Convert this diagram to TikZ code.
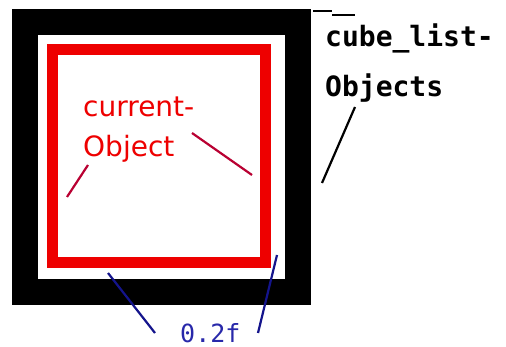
\documentclass[tikz,border=0pt]{standalone}
\usepackage{fontspec}
\setmainfont{DejaVu Sans}
\newfontfamily\monofont{DejaVu Sans Mono}
\definecolor{frameblack}{RGB}{0,0,0}
\definecolor{objred}{RGB}{238,0,0}
\definecolor{leadred}{RGB}{185,0,50}
\definecolor{dimblue}{RGB}{40,40,170}
\definecolor{leadblue}{RGB}{20,20,140}
\begin{document}
\begin{tikzpicture}[x=1pt,y=-1pt,
  outerframe/.style={draw=frameblack,line width=26pt},
  innerframe/.style={draw=objred,line width=11pt},
  blacklabel/.style={anchor=base west,inner sep=0pt,font=\monofont\bfseries\fontsize{28}{28}\selectfont,text=black},
  redlabel/.style={anchor=base west,inner sep=0pt,font=\fontsize{28}{28}\selectfont,text=objred},
  bluelabel/.style={anchor=base west,inner sep=0pt,font=\monofont\fontsize{25}{25}\selectfont,text=dimblue},
  blacklead/.style={draw=black,line width=2.2pt},
  redlead/.style={draw=leadred,line width=2.2pt},
  bluelead/.style={draw=leadblue,line width=2.2pt}]
  \useasboundingbox (0,0) rectangle (506,347);
  \fill[white] (0,0) rectangle (506,347);

  % the two nested frames
  \draw[outerframe] (25,22) rectangle (297.5,292.5);
  \draw[innerframe] (52,49.5) rectangle (265,262.5);

  % labels
  \node[blacklabel] (cubeA) at (325,47) {cube\_list-};
  \node[blacklabel] (cubeB) at (325,97) {Objects};
  \node[redlabel] (curA) at (83,117) {current-};
  \node[redlabel] (curB) at (83,157) {Object};
  \node[bluelabel] (dim) at (180,342) {0.2f};

  % leader line ends
  \coordinate (cubeEnd) at (322,183);
  \coordinate (cubeStart) at (355,107);
  \coordinate (curEndL) at (67,197);
  \coordinate (curStartL) at (88,165);
  \coordinate (curStartR) at (192,133);
  \coordinate (curEndR) at (252,175);
  \coordinate (dimL1) at (108,273);
  \coordinate (dimL2) at (155,333);
  \coordinate (dimR1) at (277,255);
  \coordinate (dimR2) at (258,333);
  \coordinate (topA) at (313,11);
  \coordinate (topB) at (332,11);
  \coordinate (topC) at (332,15);
  \coordinate (topD) at (355,15);

  % leaders
  \draw[blacklead] (topA) -- (topB);
  \draw[blacklead] (topC) -- (topD);
  \draw[blacklead] (cubeStart) -- (cubeEnd);
  \draw[redlead] (curStartL) -- (curEndL);
  \draw[redlead] (curStartR) -- (curEndR);
  \draw[bluelead] (dimL1) -- (dimL2);
  \draw[bluelead] (dimR1) -- (dimR2);
\end{tikzpicture}
\end{document}
